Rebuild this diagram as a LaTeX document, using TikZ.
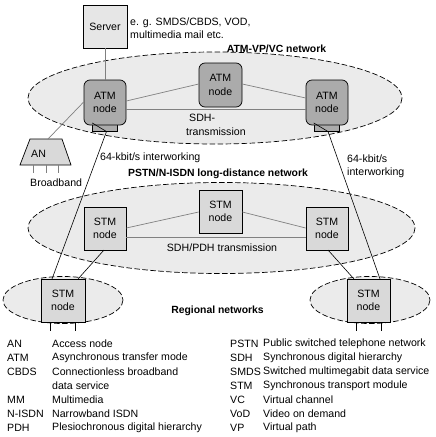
\documentclass[tikz,border=0pt]{standalone}
\usepackage{fontspec}
\setmainfont{Liberation Sans}
\begin{document}
\begin{tikzpicture}[x=1pt,y=-1pt,
  every node/.style={font=\fontsize{10.6}{13.5}\selectfont, inner sep=0pt},
  net/.style={draw=black, fill=netgray, line width=0.7pt, dash pattern=on 5.5pt off 2.5pt},
  atmbox/.style={draw=black, fill=atmgray, rounded corners=6pt, line width=0.7pt, minimum width=42pt, minimum height=45pt, align=center},
  stmbox/.style={draw=black, fill=stmgray, line width=0.7pt, minimum width=42pt, minimum height=43pt, align=center},
  portbox/.style={draw=black, fill=atmgray, line width=0.6pt, minimum width=25pt, minimum height=8.5pt},
  link/.style={draw=linkgray, line width=0.7pt},
  iw/.style={draw=black, line width=0.6pt},
  title/.style={font=\fontsize{10.4}{12}\selectfont\bfseries},
  txt/.style={anchor=west}
]
\definecolor{netgray}{HTML}{EBEBEB}
\definecolor{atmgray}{HTML}{ABABAB}
\definecolor{stmgray}{HTML}{D9D9D9}
\definecolor{srvgray}{HTML}{E6E6E6}
\definecolor{linkgray}{HTML}{808080}
\useasboundingbox (0,0) rectangle (436,437);
\fill[white] (0,0) rectangle (436,437);

% networks
\draw[net] (215,98) ellipse [x radius=187, y radius=46];
\draw[net] (221.5,228) ellipse [x radius=193.5, y radius=45.5];
\draw[net] (63,300) ellipse [x radius=60, y radius=23.5];
\draw[net] (370,300) ellipse [x radius=60, y radius=23.5];

% server
\node[draw=black, fill=srvgray, line width=0.7pt, minimum width=44pt, minimum height=43pt] (server) at (105,26.5) {Server};
\node[txt, align=left] (srvtxt) at (130,28) {e. g. SMDS/CBDS, VOD,\\multimedia mail etc.};
\node[title] (t1) at (276.5,49) {ATM-VP/VC network};

% port boxes and ATM nodes
\node[portbox] (pL) at (105,127.5) {};
\node[portbox] (pR) at (326.5,127.5) {};
\node[atmbox] (atmL) at (105,102.5) {ATM\\node};
\node[atmbox, minimum width=43pt, minimum height=44pt] (atmM) at (220.5,85) {ATM\\node};
\node[atmbox] (atmR) at (327,102.5) {ATM\\node};

\draw[link] (server.south) -- (atmL.north);
\draw[link] (atmL.east |- 0,101) -- (atmM.west |- 0,84);
\draw[link] (atmM.east |- 0,84) -- (atmR.west |- 0,98);
\draw[link] (atmL.east |- 0,109) -- (atmR.west |- 0,109);
\node[txt] (sdh1) at (189,118) {SDH-};
\node[txt] (sdh2) at (186,131.5) {transmission};

% AN
\coordinate (antl) at (30,139);
\coordinate (antr) at (62,139);
\coordinate (anbr) at (71,165);
\coordinate (anbl) at (20,165);
\draw[fill=stmgray, line width=0.7pt] (antl) -- (antr) -- (anbr) -- (anbl) -- cycle;
\node[txt] (an) at (31,154) {AN};
\coordinate (antop) at (48,139);
\draw[link] (antop) -- (atmL.west |- 0,102);
\foreach \x in {33,46,58} \draw[linkgray, line width=0.7pt] (\x,165) -- (\x,173);
\node[txt] (bb) at (30,182.5) {Broadband};

% STM long distance
\node[title] (t2) at (218,174) {PSTN/N-ISDN long-distance network};
\node[stmbox] (stmL) at (105,228.5) {STM\\node};
\node[stmbox, minimum width=43pt] (stmM) at (220.5,211.5) {STM\\node};
\node[stmbox] (stmR) at (327,228.5) {STM\\node};
\draw[link] (stmL.east |- 0,228) -- (stmM.west |- 0,212);
\draw[link] (stmM.east |- 0,212) -- (stmR.west |- 0,228);
\draw[link] (stmL.east |- 0,237) -- (stmR.west |- 0,237);
\node (sdhpdh) at (222,247.5) {SDH/PDH transmission};

% regional
\node[stmbox, minimum width=44pt] (rL) at (63,300.5) {STM\\node};
\node[stmbox, minimum width=43pt] (rR) at (368.5,300.5) {STM\\node};
\node[title] (t3) at (217.5,311) {Regional networks};
\foreach \x in {50,75} \draw[black, line width=0.6pt] (\x,322) -- (\x,331);
\foreach \x in {356,381} \draw[black, line width=0.6pt] (\x,322) -- (\x,331);

% interworking lines
\coordinate (iwL1) at (106.5,131.5);
\coordinate (iwL2) at (52,279);
\coordinate (iwR1) at (328,131.5);
\coordinate (iwR2) at (380,279);
\draw[iw] (pL.north west) -- (iwL1) -- (iwL2);
\draw[iw] (pR.north west) -- (iwR1) -- (iwR2);
\coordinate (sL) at (104,250);
\coordinate (sLr) at (78,279);
\coordinate (sR) at (328,250);
\coordinate (sRr) at (354,279);
\draw[iw] (sL) -- (sLr);
\draw[iw] (sR) -- (sRr);
\node[txt] (iwlab1) at (100,158) {64-kbit/s interworking};
\node[txt, align=left] (iwlab2) at (347,166.5) {64-kbit/s\\interworking};

% legend
\foreach \a/\d [count=\i from 0] in {AN/Access node, ATM/Asynchronous transfer mode, CBDS/Connectionless broadband, /data service, MM/Multimedia, N-ISDN/Narrowband ISDN, PDH/Plesiochronous digital hierarchy}{
  \node[txt] (la\i) at (7,343.5+14*\i) {\a};
  \node[txt] (ld\i) at (52,343.5+14*\i) {\d};
}
\foreach \a/\d [count=\i from 0] in {PSTN/Public switched telephone network, SDH/Synchronous digital hierarchy, SMDS/Switched multimegabit data service, STM/Synchronous transport module, VC/Virtual channel, VoD/Video on demand, VP/Virtual path}{
  \node[txt] (ra\i) at (230,343.5+14*\i) {\a};
  \node[txt] (rd\i) at (263,343.5+14*\i) {\d};
}
\end{tikzpicture}
\end{document}
